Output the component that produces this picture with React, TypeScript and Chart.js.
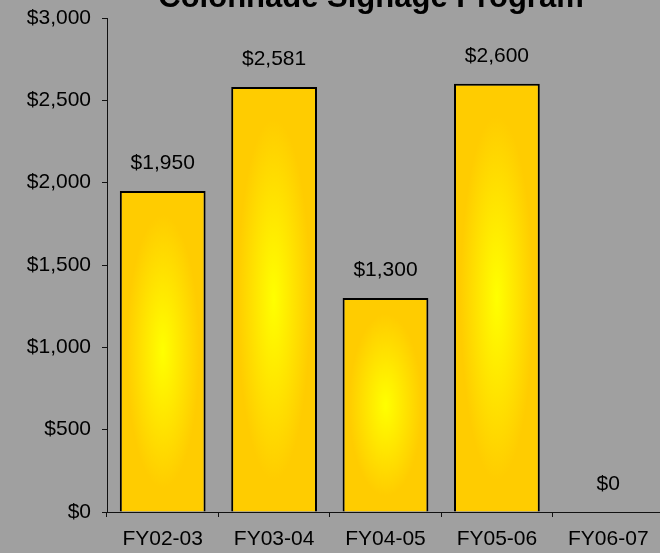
import React, { useEffect, useRef } from "react";
import { Chart, registerables } from "chart.js";

Chart.register(...registerables);

const TITLE = "Colonnade Signage Program";
const CATEGORIES = ["FY02-03", "FY03-04", "FY04-05", "FY05-06", "FY06-07"];
const VALUES = [1950, 2581, 1300, 2600, 0];
const Y_MIN = 0;
const Y_MAX = 3000;
const Y_STEP = 500;

const FONT = '"Liberation Sans", Arial, sans-serif';
const BG = "#a0a0a0";
const BAR_PCT = 0.77;

const fmt = (v: number) => "$" + Math.round(v).toLocaleString("en-US");

function barFill(c: any) {
  const chart = c.chart;
  const xs = chart.scales && chart.scales.x;
  const ys = chart.scales && chart.scales.y;
  if (!xs || !ys || c.type !== "data" || !xs.width) return "#ffcc00";
  const i = c.dataIndex;
  const v = c.raw as number;
  const cw = xs.width / CATEGORIES.length;
  const w = cw * BAR_PCT;
  const cx = xs.getPixelForValue(i);
  const top = ys.getPixelForValue(v);
  const bottom = ys.getPixelForValue(0);
  const h = bottom - top;
  if (h < 2 || w < 2) return "#ffcc00";
  const off = document.createElement("canvas");
  off.width = Math.ceil(w);
  off.height = Math.ceil(h);
  const g = off.getContext("2d")!;
  g.translate(w / 2, h / 2);
  g.scale(w / 2, h / 2);
  const rg = g.createRadialGradient(0, 0, 0, 0, 0, 1);
  rg.addColorStop(0, "#ffff00");
  rg.addColorStop(0.85, "#ffcc00");
  rg.addColorStop(1, "#ffcc00");
  g.fillStyle = rg;
  g.fillRect(-1, -1, 2, 2);
  const pat = chart.ctx.createPattern(off, "no-repeat");
  if (!pat) return "#ffcc00";
  pat.setTransform(new DOMMatrix([1, 0, 0, 1, cx - w / 2, top]));
  return pat;
}

const overlay = {
  id: "overlay",
  afterDatasetsDraw(chart: any) {
    const ctx = chart.ctx;
    const meta = chart.getDatasetMeta(0);
    ctx.save();
    ctx.fillStyle = "#000";
    ctx.font = `21px ${FONT}`;
    ctx.textAlign = "center";
    ctx.textBaseline = "middle";
    meta.data.forEach((el: any, i: number) => {
      ctx.fillText(fmt(VALUES[i]), el.x, el.y - 28);
    });
    ctx.font = `bold 31px ${FONT}`;
    ctx.textBaseline = "alphabetic";
    ctx.fillText(TITLE, 371, 7);
    ctx.restore();
  },
};

export default function App() {
  const ref = useRef<HTMLCanvasElement | null>(null);
  useEffect(() => {
    if (!ref.current) return;
    const chart = new Chart(ref.current, {
      type: "bar",
      data: {
        labels: CATEGORIES,
        datasets: [
          {
            data: VALUES,
            backgroundColor: barFill as any,
            borderColor: "#000",
            borderWidth: 2,
            barPercentage: BAR_PCT,
            categoryPercentage: 1,
          },
        ],
      },
      options: {
        responsive: false,
        animation: false,
        devicePixelRatio: 1,
        layout: { padding: { top: 18, left: 0, right: 0, bottom: 0 } },
        plugins: {
          legend: { display: false },
          title: { display: false },
          tooltip: { enabled: false },
        },
        scales: {
          x: {
            offset: true,
            grid: {
              offset: true,
              drawOnChartArea: false,
              drawTicks: true,
              tickLength: 5,
              color: "#111",
            },
            border: { display: true, color: "#111", width: 1 },
            ticks: {
              color: "#000",
              font: { family: FONT, size: 21 },
              padding: 10,
              maxRotation: 0,
              autoSkip: false,
            },
            afterFit: (s: any) => {
              s.height = 41;
              s.paddingLeft = 0;
              s.paddingRight = 0;
            },
          },
          y: {
            min: Y_MIN,
            max: Y_MAX,
            grid: {
              drawOnChartArea: false,
              drawTicks: true,
              tickLength: 5,
              color: "#111",
            },
            border: { display: true, color: "#111", width: 1 },
            ticks: {
              stepSize: Y_STEP,
              color: "#000",
              font: { family: FONT, size: 21 },
              padding: 11,
              callback: (v: any) => fmt(Number(v)),
            },
            afterFit: (s: any) => {
              s.width = 107;
              s.paddingTop = 0;
              s.paddingBottom = 0;
            },
          },
        },
      },
      plugins: [overlay],
    });
    return () => chart.destroy();
  }, []);
  return (
    <div
      style={{
        position: "fixed",
        left: 0,
        top: 0,
        width: 660,
        height: 553,
        overflow: "hidden",
        background: BG,
      }}
    >
      <canvas ref={ref} width={664} height={553} style={{ display: "block" }} />
    </div>
  );
}
